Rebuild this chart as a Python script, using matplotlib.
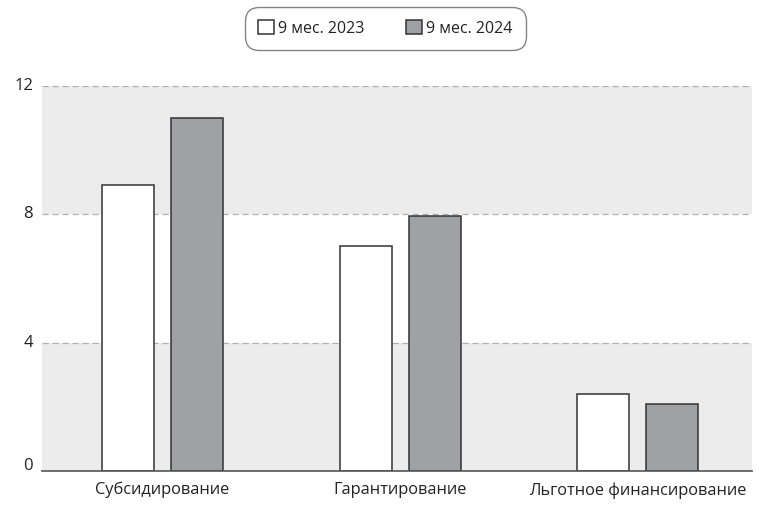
import matplotlib
matplotlib.use("Agg")
import matplotlib.pyplot as plt
import matplotlib.transforms as mtransforms
import numpy as np

categories = ["Субсидирование", "Гарантирование", "Льготное финансирование"]
series_names = ["9 мес. 2023", "9 мес. 2024"]
values_2023 = [8.9, 7.0, 2.4]
values_2024 = [11.0, 7.95, 2.1]
y_ticks = [0, 4, 8, 12]

plt.rcParams["font.family"] = ["Open Sans", "DejaVu Sans"]

fig = plt.figure(figsize=(7.59, 5.17), dpi=100)
ax = fig.add_axes([42 / 759, 1 - 471 / 517, (752 - 42) / 759, (471 - 86) / 517])

x = np.arange(len(categories))
width = 0.219
offset = 0.145

# alternating background bands
for lo, hi, col in [(0, 4, "#ececec"), (4, 8, "white"), (8, 12, "#ececec")]:
    ax.axhspan(lo, hi, color=col, zorder=0, lw=0)

for t in y_ticks[1:]:
    ax.axhline(t, color="#b0b0b0", lw=0.9, ls=(0, (5, 3)), zorder=1)

ax.bar(x - offset, values_2023, width, color="white", edgecolor="#333333",
       lw=1.1, zorder=2, label=series_names[0])
ax.bar(x + offset, values_2024, width, color="#a0a1a5", edgecolor="#333333",
       lw=1.1, zorder=2, label=series_names[1])

ax.set_xlim(-0.507, 2.48)
ax.set_ylim(0, 12)
ax.set_yticks(y_ticks)
ax.set_xticks(x)
ax.set_xticklabels(categories)
ax.tick_params(axis="both", length=0, labelsize=12, colors="#222222")
ax.tick_params(axis="x", labelsize=11.8)
ax.tick_params(axis="y", pad=6.5)
ax.tick_params(axis="x", pad=8)
ylabels = ax.get_yticklabels()
for lab in ylabels:
    lab.set_verticalalignment("center")
# lift the zero label so it sits above the baseline
ylabels[0].set_transform(ylabels[0].get_transform() +
                         mtransforms.ScaledTranslation(0, 4.5 / 100, fig.dpi_scale_trans))

for s in ["top", "right", "left"]:
    ax.spines[s].set_visible(False)
ax.spines["bottom"].set_color("#555555")
ax.spines["bottom"].set_linewidth(1.2)
ax.spines["bottom"].set_zorder(3)

leg = fig.legend(loc="center", bbox_to_anchor=(385.5 / 759, 1 - 28.5 / 517),
                 ncol=2, frameon=True, fontsize=11.5, handlelength=1.0,
                 handleheight=1.0, handletextpad=0.25, columnspacing=2.6,
                 borderpad=0.85, fancybox=True)
for txt in leg.get_texts():
    txt.set_color("#222222")
frame = leg.get_frame()
frame.set_edgecolor("#666666")
frame.set_linewidth(1.0)
frame.set_boxstyle("round,pad=0,rounding_size=0.9")

fig.savefig("out.png", dpi=100)
